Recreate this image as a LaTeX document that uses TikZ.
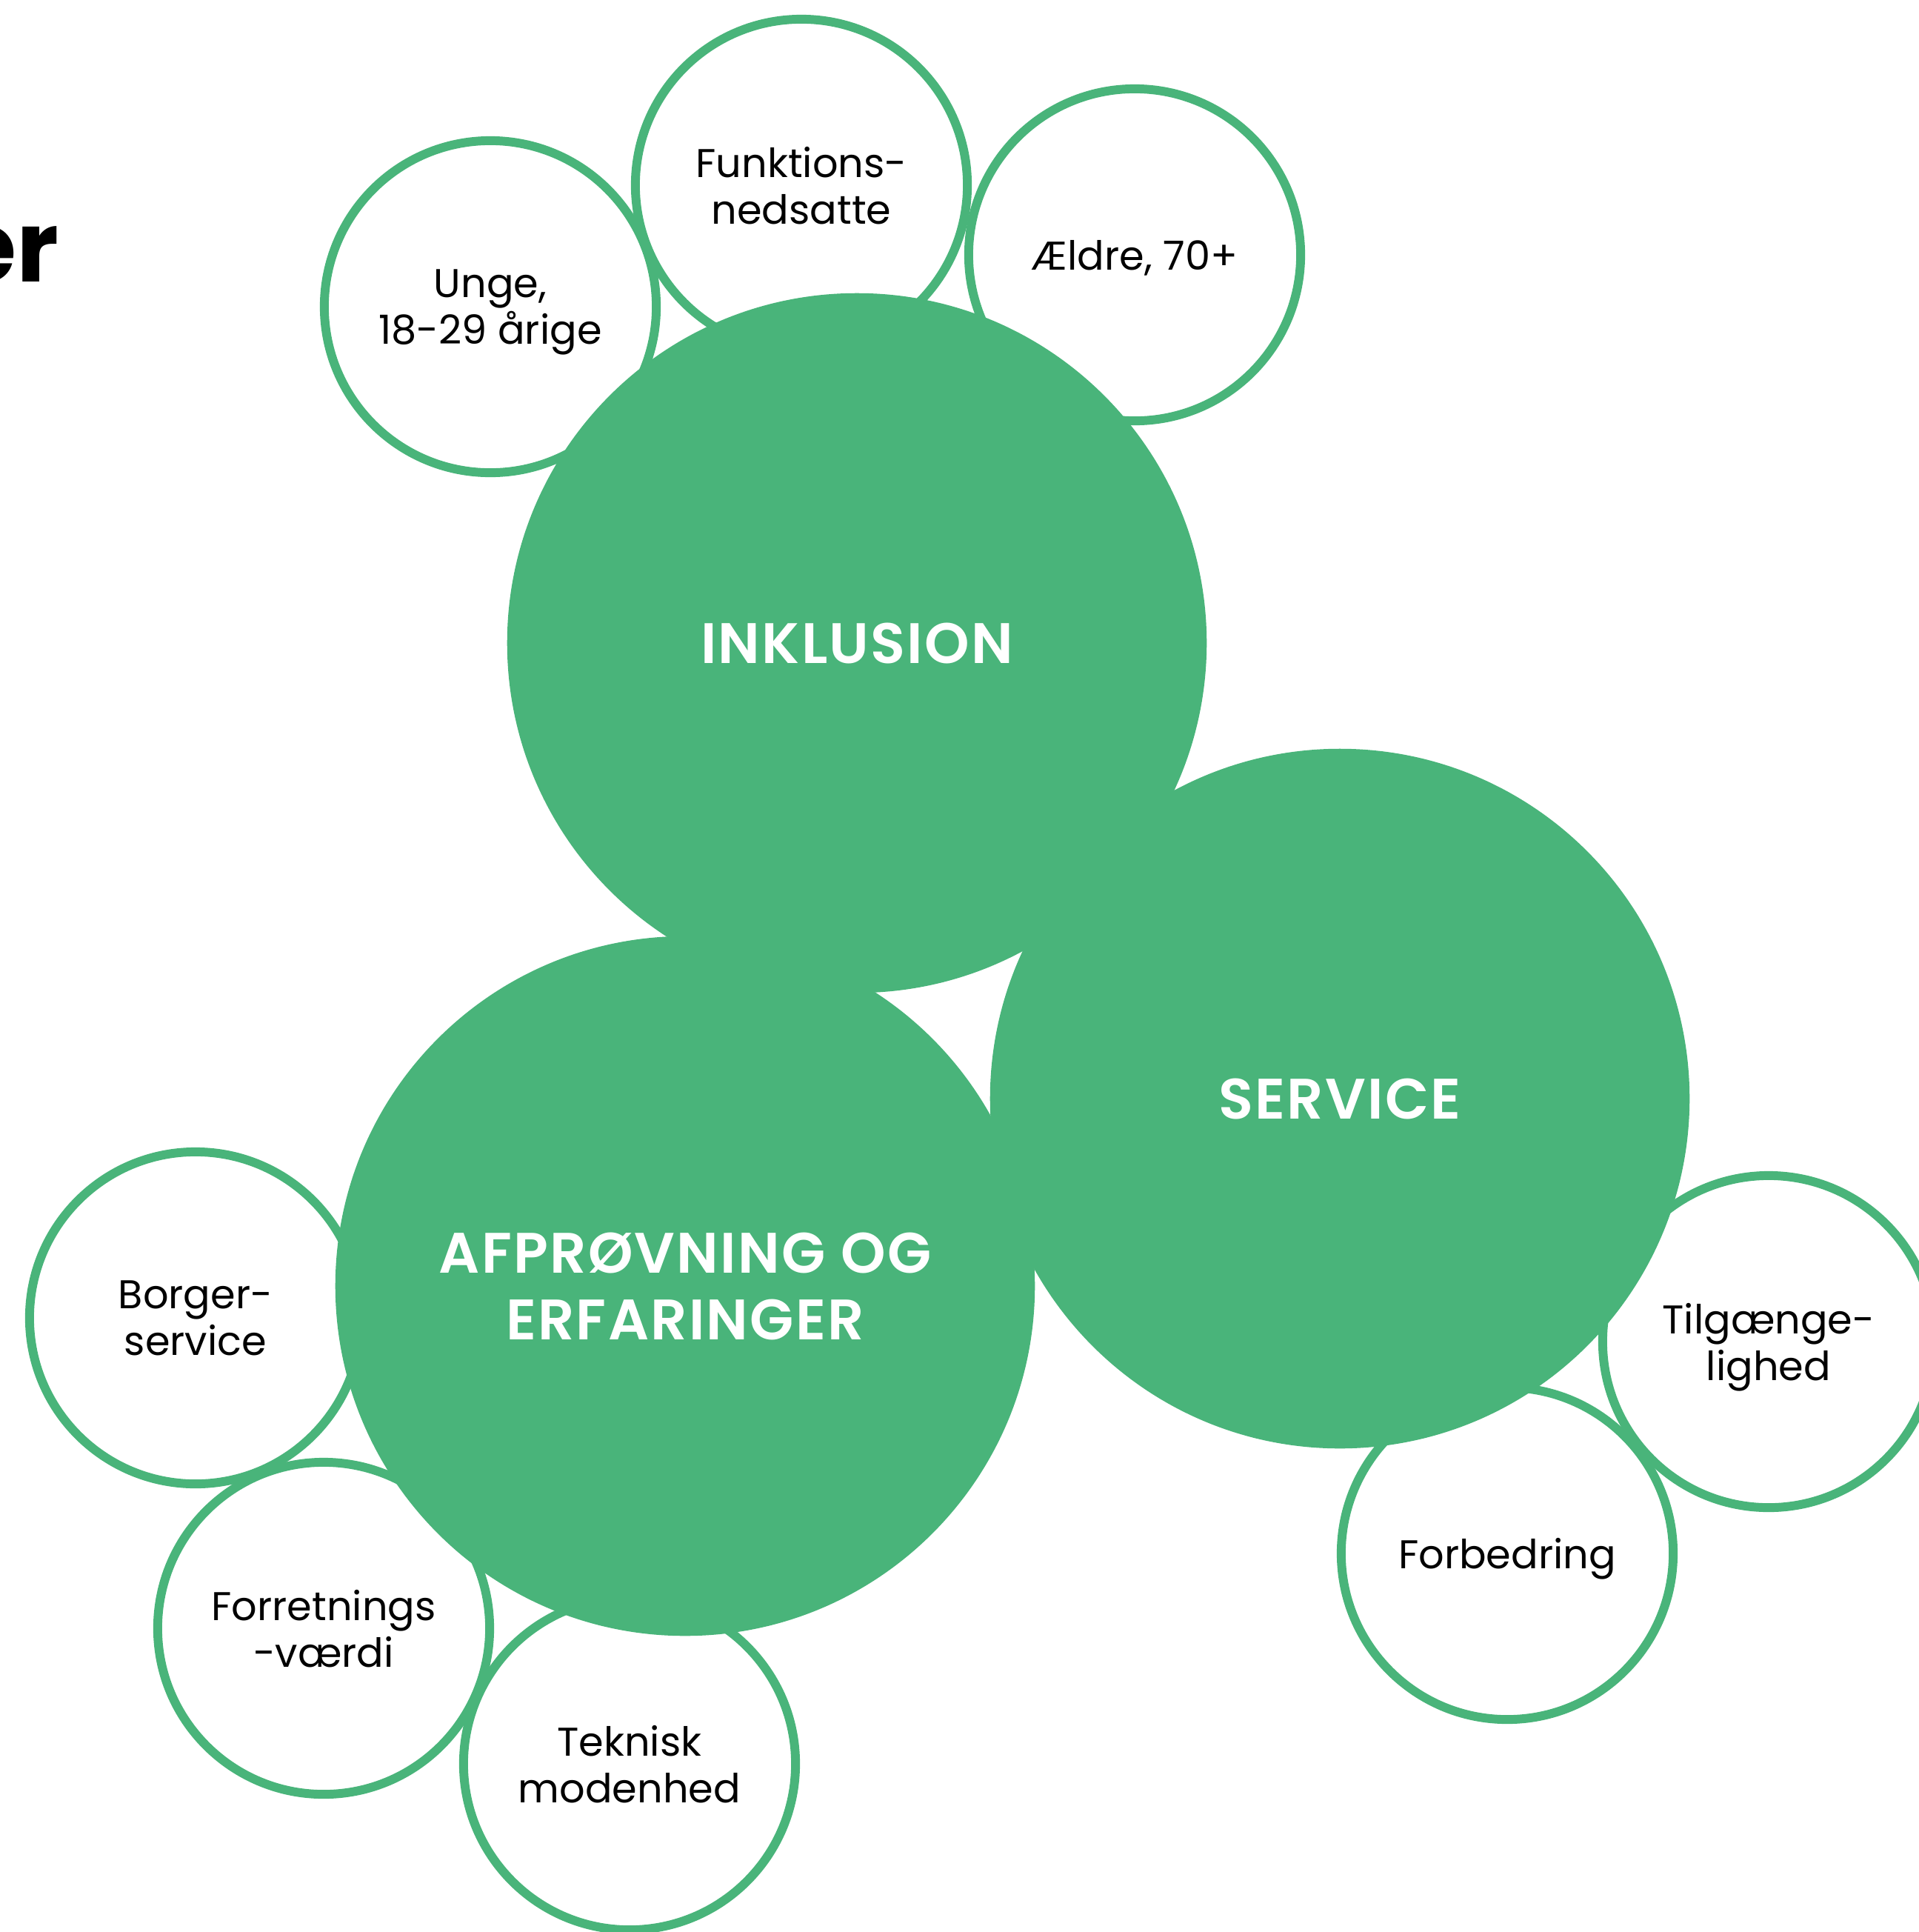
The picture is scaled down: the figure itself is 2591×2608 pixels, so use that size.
\documentclass[tikz,border=0pt]{standalone}
\usepackage{fontspec}
\setmainfont{Poppins}
\newfontfamily\headfont{Poppins SemiBold}[LetterSpace=3]
\newfontfamily\titlefont{Poppins Bold}
\definecolor{leafgreen}{HTML}{49B47A}
\tikzset{theme/.style={circle, fill=leafgreen, minimum size=9.44cm, inner sep=0pt, text=white, align=center, font=\headfont\fontsize{21.9}{25.6}\selectfont},
  aspect/.style={circle, draw=leafgreen, line width=3.4pt, minimum size=4.48cm, inner sep=0pt, text depth=0pt, align=center, font=\fontsize{15.4}{17.9}\selectfont}}

\begin{document}
\begin{tikzpicture}[x=0.01cm,y=-0.01cm]
     \useasboundingbox (0,0) rectangle (2591,2608);
     % end of the title, cut by the page edge
     \node[anchor=base east, inner sep=0pt, font=\titlefont\fontsize{37.8}{40}\selectfont] (title) at (80,380) {er};
     % small rings
     \node[aspect] (unge) at (662,414) {Unge,\\18-29 årige};
     \node[aspect] (funk) at (1082,250) {Funktions-\\nedsatte};
     \node[aspect] (aeldre) at (1532,344) {Ældre, 70+};
     \node[aspect] (borger) at (264,1779) {Borger-\\service};
     \node[aspect] (forr) at (437,2198) {Forretnings\\-værdi};
     \node[aspect] (tekn) at (850,2381) {Teknisk\\modenhed};
     \node[aspect] (forb) at (2035,2097) {Forbedring};
     \node[aspect] (tilg) at (2388,1811) {Tilgænge-\\lighed};
     % big discs
     \node[theme] (inkl) at (1157,868) {INKLUSION};
     \node[theme] (serv) at (1809,1483) {SERVICE};
     \node[theme] (afpr) at (925,1736) {AFPRØVNING OG\\ERFARINGER};
    \end{tikzpicture}
\end{document}
